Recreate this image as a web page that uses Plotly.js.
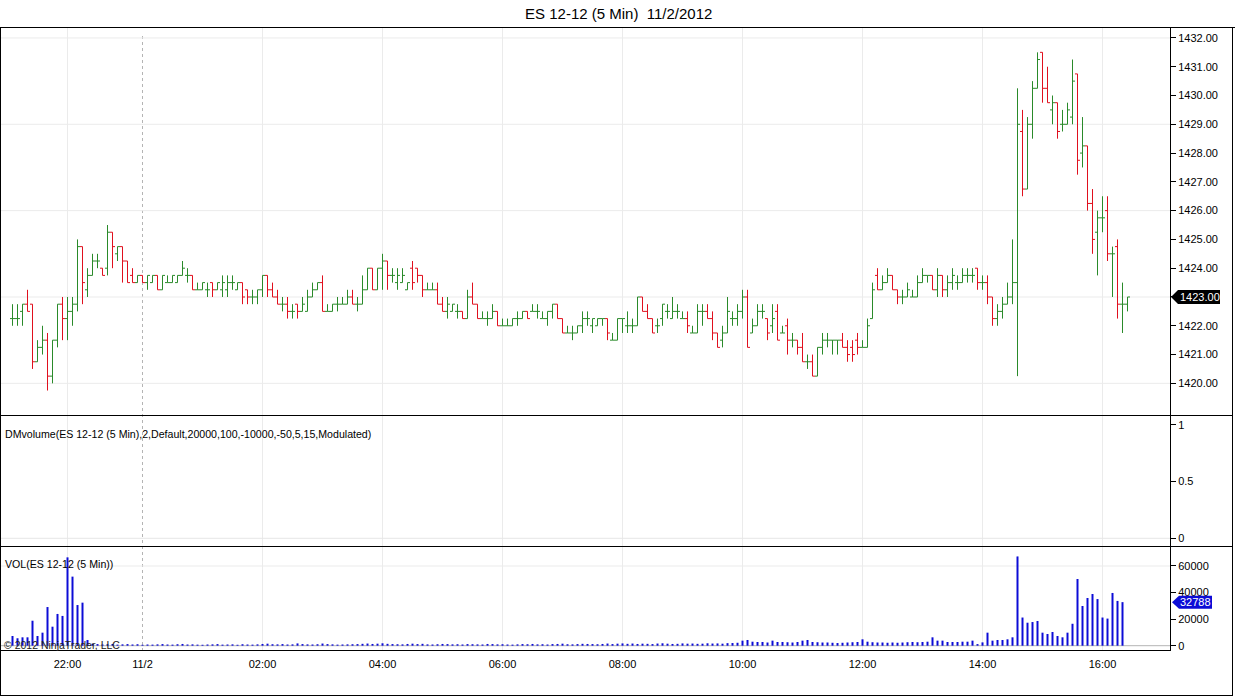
<!DOCTYPE html>
<html><head><meta charset="utf-8">
<script src="https://cdn.plot.ly/plotly-3.0.1.min.js"></script>
<style>html,body{margin:0;padding:0;background:#fff;overflow:hidden}</style>
</head><body><div id="chart" style="width:1235px;height:697px"></div>
<script>
// ---- data (5-minute bars, index 0 = first bar) ----
const openP = [
1422.25,1422.25,1422.5,1422.75,1422.75,1420.75,1421.25,1421.5,1420.25,1421.5,
1422.75,1422.25,1422.5,1422.75,1424.75,1423.25,1423.75,1424.25,1424.0,1424.0,
1425.25,1424.5,1424.75,1424.25,1423.75,1423.5,1423.75,1423.5,1423.5,1423.75,
1423.25,1423.5,1423.5,1423.5,1423.75,1423.75,1423.75,1423.25,1423.25,1423.25,
1423.5,1423.25,1423.25,1423.25,1423.5,1423.25,1423.5,1423.25,1423.0,1423.0,
1423.25,1423.75,1423.25,1423.0,1422.75,1422.75,1422.5,1422.75,1422.5,1422.5,
1423.0,1423.25,1423.5,1422.5,1422.5,1422.75,1422.75,1422.75,1423.0,1422.75,
1422.75,1423.25,1424.0,1423.25,1424.0,1424.25,1423.75,1423.5,1423.5,1423.25,
1424.0,1424.0,1423.75,1423.25,1423.25,1423.25,1422.75,1422.5,1422.5,1422.5,
1422.5,1422.25,1423.0,1422.75,1422.25,1422.25,1422.25,1422.5,1422.0,1422.0,
1422.0,1422.25,1422.25,1422.5,1422.5,1422.5,1422.25,1422.25,1422.5,1422.75,
1422.25,1421.75,1421.75,1421.75,1422.0,1422.25,1422.0,1422.0,1422.25,1422.25,
1421.5,1421.5,1422.25,1422.0,1422.0,1422.0,1423.0,1422.5,1422.25,1422.0,
1422.25,1422.5,1422.25,1422.5,1422.25,1422.25,1421.75,1421.75,1422.5,1422.5,
1422.25,1421.75,1421.5,1421.75,1422.25,1422.25,1422.5,1423.0,1421.75,1422.0,
1422.5,1422.25,1422.0,1422.5,1421.75,1422.0,1421.5,1421.5,1421.25,1420.75,
1420.75,1420.25,1421.25,1421.5,1421.5,1421.5,1421.5,1421.25,1421.25,1421.5,
1421.25,1421.25,1422.25,1423.75,1423.25,1423.5,1423.75,1423.25,1423.0,1423.0,
1423.0,1423.0,1423.5,1423.75,1423.75,1423.25,1423.75,1423.25,1423.5,1423.5,
1423.5,1423.75,1423.75,1424.0,1423.5,1423.5,1423.0,1422.25,1422.5,1422.75,
1423.0,1423.5,1428.75,1426.75,1429.0,1430.25,1431.5,1430.25,1429.5,1429.75,
1429.0,1429.0,1429.25,1430.75,1428.0,1428.25,1426.25,1425.25,1425.75,1426.0,
1424.5,1424.75,1422.75,1422.75];
const highP = [
1422.75,1422.75,1422.75,1423.25,1422.75,1421.5,1422.0,1421.75,1421.5,1422.75,
1423.0,1423.0,1423.0,1425.0,1424.75,1424.0,1424.5,1424.5,1424.0,1425.5,
1425.25,1424.75,1424.75,1424.25,1424.0,1423.75,1423.75,1423.75,1423.75,1423.75,
1423.75,1423.75,1423.75,1423.75,1424.25,1424.0,1423.75,1423.5,1423.5,1423.5,
1423.5,1423.5,1423.75,1423.75,1423.75,1423.5,1423.5,1423.25,1423.25,1423.25,
1423.75,1423.75,1423.5,1423.25,1423.0,1423.0,1422.75,1422.75,1423.0,1423.25,
1423.5,1423.5,1423.75,1422.75,1422.75,1423.0,1423.0,1423.25,1423.25,1423.0,
1423.75,1424.0,1424.0,1424.0,1424.5,1424.25,1424.0,1424.0,1424.0,1423.5,
1424.25,1424.0,1423.75,1423.5,1423.5,1423.5,1423.0,1423.0,1422.75,1422.75,
1422.5,1423.25,1423.5,1422.75,1422.5,1422.5,1422.75,1422.5,1422.25,1422.25,
1422.25,1422.5,1422.5,1422.5,1422.75,1422.75,1422.5,1422.5,1422.75,1422.75,
1422.25,1422.0,1422.0,1422.0,1422.5,1422.5,1422.25,1422.25,1422.25,1422.25,
1421.75,1422.25,1422.25,1422.5,1422.25,1423.0,1423.0,1422.75,1422.25,1422.25,
1422.75,1422.75,1423.0,1422.75,1422.5,1422.5,1422.0,1422.75,1422.75,1422.75,
1422.5,1421.75,1422.0,1423.0,1422.5,1422.75,1423.25,1423.25,1422.25,1422.75,
1422.75,1422.25,1422.75,1422.75,1422.0,1422.25,1421.75,1421.5,1421.75,1421.0,
1421.0,1421.25,1421.75,1421.75,1421.5,1421.5,1421.75,1421.5,1421.5,1421.75,
1421.5,1422.25,1423.5,1424.0,1423.75,1424.0,1423.75,1423.25,1423.25,1423.5,
1423.25,1423.75,1424.0,1423.75,1423.75,1424.0,1423.75,1423.75,1424.0,1423.75,
1424.0,1424.0,1424.0,1424.0,1423.75,1423.75,1423.0,1422.75,1423.0,1423.5,
1425.0,1430.25,1429.5,1429.25,1430.5,1431.5,1431.5,1431.0,1430.0,1429.75,
1429.5,1429.75,1431.25,1430.75,1429.25,1428.25,1426.75,1426.0,1426.5,1426.5,
1424.75,1425.0,1423.5,1423.0];
const lowP = [
1422.0,1422.0,1422.0,1422.5,1420.5,1420.75,1421.0,1419.75,1420.0,1421.25,
1421.5,1421.5,1422.0,1422.5,1422.75,1423.0,1423.75,1424.0,1423.75,1423.75,
1424.0,1424.25,1423.5,1423.5,1423.5,1423.5,1423.5,1423.25,1423.5,1423.25,
1423.25,1423.5,1423.5,1423.5,1423.75,1423.5,1423.25,1423.25,1423.25,1423.0,
1423.0,1423.25,1423.0,1423.0,1423.25,1423.25,1422.75,1422.75,1422.75,1422.75,
1423.0,1423.0,1423.0,1422.75,1422.5,1422.25,1422.25,1422.25,1422.5,1422.5,
1423.0,1423.25,1422.5,1422.5,1422.5,1422.5,1422.75,1422.75,1422.75,1422.5,
1422.75,1423.25,1423.25,1423.25,1423.25,1423.25,1423.5,1423.25,1423.5,1423.25,
1423.25,1423.5,1423.0,1423.25,1423.25,1422.75,1422.5,1422.25,1422.5,1422.25,
1422.25,1422.25,1422.75,1422.25,1422.25,1422.0,1422.25,1422.0,1422.0,1422.0,
1422.0,1422.0,1422.25,1422.25,1422.5,1422.25,1422.25,1422.0,1422.25,1422.25,
1421.75,1421.75,1421.5,1421.75,1421.75,1422.0,1421.75,1422.0,1422.0,1421.5,
1421.5,1421.5,1421.75,1421.75,1421.75,1422.0,1422.5,1422.25,1421.75,1421.75,
1422.0,1422.25,1422.25,1422.25,1422.25,1421.75,1421.75,1421.75,1422.0,1422.25,
1421.5,1421.25,1421.25,1421.75,1422.0,1422.0,1422.25,1421.25,1421.75,1422.0,
1422.25,1421.5,1421.75,1421.5,1421.75,1421.0,1421.25,1421.0,1420.75,1420.5,
1420.25,1420.25,1421.0,1421.25,1421.0,1421.0,1421.25,1420.75,1420.75,1421.0,
1421.25,1421.25,1422.25,1423.25,1423.25,1423.5,1423.25,1422.75,1422.75,1423.0,
1423.0,1423.0,1423.5,1423.5,1423.25,1423.0,1423.0,1423.0,1423.25,1423.25,
1423.5,1423.5,1423.5,1423.25,1423.25,1422.75,1422.0,1422.0,1422.25,1422.75,
1422.75,1420.25,1426.5,1426.75,1428.5,1430.25,1429.75,1429.75,1429.0,1428.5,
1428.75,1429.0,1429.0,1427.25,1427.5,1426.0,1424.5,1423.75,1425.25,1424.25,
1423.0,1422.25,1421.75,1422.5];
const closeP = [
1422.25,1422.25,1422.75,1422.5,1420.75,1421.25,1421.5,1420.25,1421.5,1422.75,
1422.25,1422.5,1422.75,1424.75,1423.5,1423.75,1424.25,1424.25,1423.75,1425.25,
1424.75,1424.75,1424.25,1423.5,1423.5,1423.75,1423.5,1423.75,1423.75,1423.25,
1423.75,1423.5,1423.75,1423.75,1424.0,1423.75,1423.25,1423.25,1423.5,1423.25,
1423.25,1423.5,1423.5,1423.5,1423.5,1423.5,1423.0,1423.0,1423.0,1423.25,
1423.75,1423.25,1423.0,1422.75,1422.75,1422.5,1422.5,1422.5,1422.75,1423.0,
1423.25,1423.5,1422.5,1422.5,1422.75,1422.75,1422.75,1423.0,1422.75,1422.75,
1423.25,1424.0,1423.25,1424.0,1424.25,1423.75,1423.75,1423.75,1423.75,1423.5,
1423.5,1423.75,1423.25,1423.25,1423.25,1422.75,1422.5,1422.75,1422.75,1422.5,
1422.25,1423.0,1422.75,1422.25,1422.25,1422.25,1422.5,1422.0,1422.0,1422.0,
1422.25,1422.25,1422.5,1422.25,1422.5,1422.5,1422.25,1422.5,1422.75,1422.25,
1421.75,1421.75,1421.75,1422.0,1422.25,1422.25,1422.25,1422.25,1422.25,1421.75,
1421.5,1422.25,1422.25,1422.0,1422.0,1423.0,1422.5,1422.25,1421.75,1422.0,
1422.75,1422.5,1422.5,1422.5,1422.25,1422.0,1421.75,1422.5,1422.5,1422.25,
1421.75,1421.25,1421.75,1422.5,1422.25,1422.5,1423.0,1421.25,1422.0,1422.5,
1422.5,1421.75,1422.25,1421.5,1421.75,1421.5,1421.5,1421.25,1420.75,1420.75,
1420.25,1421.25,1421.5,1421.5,1421.5,1421.5,1421.25,1421.0,1421.0,1421.25,
1421.25,1422.0,1423.25,1423.25,1423.5,1423.75,1423.25,1423.0,1423.0,1423.25,
1423.0,1423.5,1423.75,1423.75,1423.25,1423.75,1423.25,1423.5,1423.75,1423.5,
1423.75,1423.75,1423.75,1423.5,1423.5,1423.0,1422.25,1422.5,1422.75,1423.0,
1423.5,1429.0,1426.75,1429.0,1430.25,1431.25,1430.25,1429.75,1429.75,1428.75,
1429.0,1429.5,1430.5,1427.75,1428.25,1426.25,1425.0,1425.75,1425.75,1424.5,
1424.5,1422.75,1422.75,1423.0];
const volume = [
7300,5600,6300,6300,18800,7300,9800,29100,14300,23900,22400,66500,52000,30600,32400,4300,
1500,1200,900,1100,1300,800,1000,1200,900,1100,
700,900,800,1000,1200,900,800,1100,1300,900,
1000,800,700,900,1000,1200,800,900,1000,700,
1100,900,800,1000,1300,1500,1100,1000,1200,900,
1000,1700,1200,1000,900,1100,1600,1200,1000,800,
900,1000,1100,1200,1400,1600,1300,1500,1800,1400,
1200,1100,1000,1300,1500,1200,1400,1000,900,1100,
1300,1200,1000,1100,900,1200,1100,1000,900,1300,
1200,1000,1100,900,800,1000,1200,1100,1300,1000,
1100,900,1200,1300,1500,1100,1000,1200,1400,1300,
1200,1100,1300,1600,1200,1500,1700,1400,1600,1300,
1500,1400,1200,1600,1800,1500,1300,1400,1700,1500,
1600,1400,1500,1800,1600,1700,1500,1900,2000,2200,
3800,4300,3000,2800,2800,2400,3800,2800,2800,2600,
2400,2800,3800,4300,2800,2600,2400,2400,2200,2000,
2200,2400,2600,2800,4800,3000,2600,2400,2400,2200,
2400,2200,2400,2600,2800,2600,2800,3000,6300,3800,
3800,2800,2800,2800,3000,3000,3800,1200,2500,9800,
3800,4300,4300,4800,6300,67200,21200,17300,17800,18600,
9800,8800,10300,7300,6300,9800,16500,50200,29900,35900,
38900,35100,21200,20400,39700,33700,32788];
const xTickIdx = [11, 26, 50, 74, 98, 122, 146, 170, 194, 218];
const xTickText = ['22:00', '11/2', '02:00', '04:00', '06:00', '08:00', '10:00', '12:00', '14:00', '16:00'];
const dayBreakIdx = 26;
const priceTicks = [1420,1421,1422,1423,1424,1425,1426,1427,1428,1429,1430,1431,1432];
const priceGrid = [1420,1423,1426,1429,1432];
const volTicks = [0,20000,40000,60000];
const indTicks = [0,0.5,1];

// ---- build traces ----
const idx = openP.map((_, i) => i);
const upSel = idx.filter(i => closeP[i] >= openP[i]);
const dnSel = idx.filter(i => closeP[i] < openP[i]);
const UP = '#2a8a2a', DN = '#e0101e', VOLC = '#0c0cd6';
function ohlc(sel, color) {
  return {type:'ohlc', xaxis:'x', yaxis:'y', x: sel,
    open: sel.map(i=>openP[i]), high: sel.map(i=>highP[i]),
    low: sel.map(i=>lowP[i]), close: sel.map(i=>closeP[i]),
    increasing:{line:{color:color,width:1}}, decreasing:{line:{color:color,width:1}},
    tickwidth:0.5, hoverinfo:'skip', showlegend:false};
}
const volX = volume.map((_, i) => i);
const traces = [
  ohlc(upSel, UP), ohlc(dnSel, DN),
  {type:'scatter', mode:'lines', x:[0], y:[null], xaxis:'x', yaxis:'y2', hoverinfo:'skip', showlegend:false},
  {type:'bar', x: volX, y: volume, xaxis:'x', yaxis:'y3', width:0.4,
   marker:{color:VOLC, line:{width:0}}, hoverinfo:'skip', showlegend:false}
];

const lastClose = closeP[closeP.length-1];
const lastVol = volume[volume.length-1];

// ---- geometry helpers (pixel -> paper) ----
const L = 1, R = 65, T = 27, B = 46, W = 1235, H = 697;
const pw = W - L - R, ph = H - T - B;
const px = v => (v - L) / pw;
const py = v => (H - B - v) / ph;

const shapes = [];
xTickIdx.forEach(i => {
  if (i === dayBreakIdx) return;
  shapes.push({type:'line', xref:'x', yref:'paper', x0:i, x1:i, y0:0, y1:1, line:{color:'#ebebeb', width:1}, layer:'below'});
});
shapes.push({type:'line', xref:'x', yref:'paper', x0:dayBreakIdx, x1:dayBreakIdx, y0:0, y1:py(35), line:{color:'#b4b4b4', width:1, dash:'dot'}, layer:'below'});
priceGrid.forEach(p => shapes.push({type:'line', xref:'paper', yref:'y', x0:0, x1:1, y0:p, y1:p, line:{color:'#ebebeb', width:1}, layer:'below'}));
shapes.push({type:'line', xref:'paper', yref:'y2', x0:0, x1:1, y0:0, y1:0, line:{color:'#e6e6e6', width:1}, layer:'below'});
shapes.push({type:'line', xref:'paper', yref:'y3', x0:0, x1:1, y0:60000, y1:60000, line:{color:'#ebebeb', width:1}, layer:'below'});
shapes.push({type:'line', xref:'paper', yref:'y3', x0:0, x1:1, y0:0, y1:0, line:{color:'#b4b4b4', width:1}, layer:'below'});
// frame and panel separators
const blk = {color:'#000', width:1};
[[0, 27.5, 1235, 27.5], [0, 415.5, 1233, 415.5], [0, 546.5, 1233, 546.5], [0, 650.5, 1170.5, 650.5], [0, 695.5, 1233, 695.5],
 [0.5, 27, 0.5, 696], [1232.5, 27, 1232.5, 696], [1170.5, 27, 1170.5, 651]].forEach(s => {
  shapes.push({type:'line', xref:'paper', yref:'paper', x0:px(s[0]), x1:px(s[2]), y0:py(s[1]), y1:py(s[3]), line:blk, layer:'above'});
});
// last value markers
shapes.push({type:'path', xref:'paper', yref:'y', xsizemode:'pixel', ysizemode:'pixel', xanchor:1, yanchor:lastClose,
  path:'M1,0 L8,7 L50,7 L50,-7 L8,-7 Z', fillcolor:'#000', line:{width:0}, layer:'above'});
shapes.push({type:'path', xref:'paper', yref:'y3', xsizemode:'pixel', ysizemode:'pixel', xanchor:1, yanchor:lastVol,
  path:'M2,0 L9,6.5 L42,6.5 L42,-6.5 L9,-6.5 Z', fillcolor:VOLC, line:{width:0}, layer:'above'});

const FONT = 'Liberation Sans, Arial, sans-serif';
const annotations = [
  {xref:'paper', yref:'paper', x:px(3), y:py(434), xanchor:'left', yanchor:'middle', showarrow:false,
   text:'DMvolume(ES 12-12 (5 Min),2,Default,20000,100,-10000,-50,5,15,Modulated)', font:{size:10.6, color:'#000'}},
  {xref:'paper', yref:'paper', x:px(3), y:py(564), xanchor:'left', yanchor:'middle', showarrow:false,
   text:'VOL(ES 12-12 (5 Min))', font:{size:10.6, color:'#000'}},
  {xref:'paper', yref:'paper', x:px(2), y:py(645), xanchor:'left', yanchor:'middle', showarrow:false,
   text:'© 2012 NinjaTrader, LLC', font:{size:10.5, color:'#222'}},
  {xref:'paper', yref:'y', x:1, y:lastClose, xanchor:'left', yanchor:'middle', xshift:8, showarrow:false,
   text:lastClose.toFixed(2), font:{size:11, color:'#fff'}},
  {xref:'paper', yref:'y3', x:1, y:lastVol, xanchor:'left', yanchor:'middle', xshift:8, showarrow:false,
   text:String(lastVol), font:{size:11, color:'#fff'}}
];

const yCommon = {anchor:'x', side:'right', ticks:'outside', ticklen:5, tickcolor:'#000', tickwidth:1,
  showgrid:false, zeroline:false, showline:false, fixedrange:true, tickfont:{size:11, color:'#000'}};

const layout = {
  width:W, height:H, margin:{l:L, r:R, t:T, b:B, pad:0},
  paper_bgcolor:'#fff', plot_bgcolor:'#fff',
  font:{family:FONT, size:11, color:'#000'},
  showlegend:false, hovermode:false, dragmode:false,
  title:{text:'ES 12-12 (5 Min)\u00a0 11/2/2012', xref:'container', x:0.501, xanchor:'center',
         yref:'container', y:1 - 13.5/H, yanchor:'middle', font:{size:15, color:'#000', family:FONT}},
  xaxis:{anchor:'y3', range:[-2.3, 231.5], tickmode:'array', tickvals:xTickIdx, ticktext:xTickText,
         ticks:'outside', ticklen:3, tickcolor:'rgba(0,0,0,0)', showgrid:false, zeroline:false, showline:false,
         rangeslider:{visible:false}, fixedrange:true, tickfont:{size:11, color:'#000'}},
  yaxis:Object.assign({}, yCommon, {domain:[py(415), 1], range:[1418.9, 1432.38], tickmode:'array',
         tickvals:priceTicks, ticktext:priceTicks.map(v=>v.toFixed(2))}),
  yaxis2:Object.assign({}, yCommon, {domain:[py(546), py(416)], range:[-0.068, 1.079], tickmode:'array',
         tickvals:indTicks, ticktext:indTicks.map(String)}),
  yaxis3:Object.assign({}, yCommon, {domain:[0, py(547)], range:[-4000, 74300], tickmode:'array',
         tickvals:volTicks, ticktext:volTicks.map(String)}),
  shapes:shapes, annotations:annotations
};
Plotly.newPlot('chart', traces, layout, {displayModeBar:false, staticPlot:true});
</script></body></html>
